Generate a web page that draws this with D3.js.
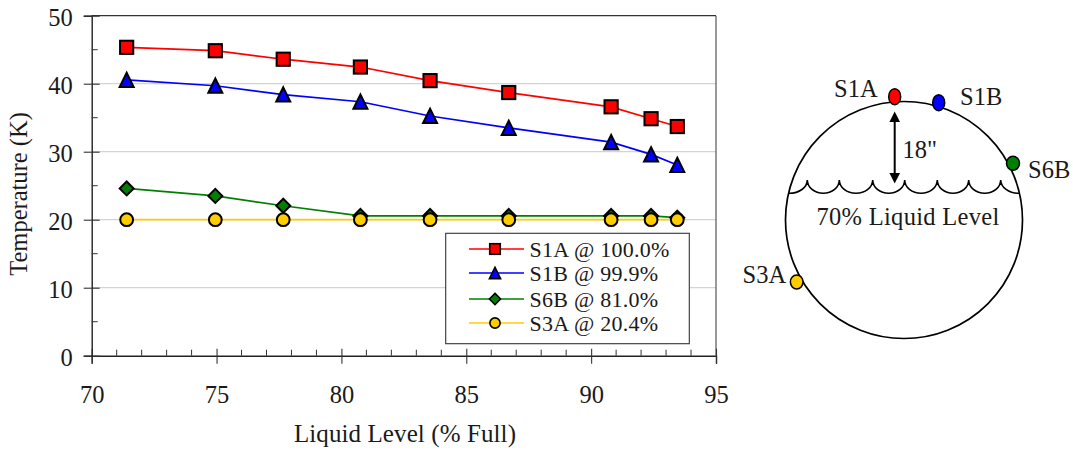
<!DOCTYPE html>
<html><head><meta charset="utf-8">
<script src="https://cdnjs.cloudflare.com/ajax/libs/d3/7.8.5/d3.min.js"></script>
<style>html,body{margin:0;padding:0;background:#fff}svg{display:block}text{font-family:"Liberation Serif",serif;fill:#1a1a1a}</style>
</head><body>
<script>
const liquidLevel=[71.4,74.95,77.67,80.76,83.55,86.7,90.8,92.4,93.45];
const s1a=[45.35,44.85,43.6,42.45,40.45,38.7,36.6,34.85,33.7];
const s1b=[40.55,39.7,38.4,37.35,35.25,33.5,31.4,29.6,28.05];
const s6b=[24.6,23.5,22.05,20.55,20.55,20.55,20.55,20.55,20.3];
const s3a=[20,20,20,20,20,20,20,20,20];
const seriesNames=["S1A @ 100.0%","S1B @ 99.9%","S6B @ 81.0%","S3A @ 20.4%"];
const seriesColors=["#ff0000","#0000ff","#008000","#ffcc00"];
const seriesShapes=["square","triangle","diamond","circle"];
const xTicks=[70,75,80,85,90,95];
const yTicks=[0,10,20,30,40,50];
const xMinorTicks=[71,72,73,74,76,77,78,79,81,82,83,84,86,87,88,89,91,92,93,94];
const yMinorTicks=[5,15,25,35,45];
const sensorNames=["S1A","S1B","S6B","S3A"];
const W=1073,H=451;
const svg=d3.select("body").append("svg").attr("width",W).attr("height",H);
const x=d3.scaleLinear().domain([70,95]).range([91.7,716]);
const y=d3.scaleLinear().domain([0,50]).range([355.7,15.7]);

svg.append("g").selectAll("line").data(yTicks.filter(d=>d>0&&d<50)).join("line")
 .attr("x1",x(70)).attr("x2",x(95)).attr("y1",y).attr("y2",y).attr("stroke","#d4d4d4").attr("stroke-width",1.2);
svg.append("line").attr("x1",x(95)).attr("x2",x(95)).attr("y1",y(50)).attr("y2",y(0)).attr("stroke","#555").attr("stroke-width",1.2);
svg.append("line").attr("x1",x(70)).attr("x2",x(95)).attr("y1",y(50)).attr("y2",y(50)).attr("stroke","#333").attr("stroke-width",1.2);

const axB=d3.axisBottom(x).tickValues(xTicks).tickSize(8).tickFormat(d3.format("d"));
const gx=svg.append("g").attr("transform",`translate(0,${y(0)})`).call(axB);
const axL=d3.axisLeft(y).tickValues(yTicks).tickSize(8).tickFormat(d3.format("d"));
const gy=svg.append("g").attr("transform",`translate(${x(70)},0)`).call(axL);
for(const g of [gx,gy]){g.select(".domain").attr("stroke","#222").attr("stroke-width",1.4);
 g.selectAll(".tick line").attr("stroke","#333").attr("stroke-width",1.1);
 g.selectAll("text").attr("font-family","Liberation Serif").attr("fill","#1a1a1a").style("font-size","24.5px");}
gx.selectAll(".tick line").attr("y1",-7).attr("y2",8);
gy.selectAll(".tick line").attr("x1",8).attr("x2",-8);
gx.selectAll("text").attr("y",47.3).attr("dy",0);
gy.selectAll("text").attr("x",-19).attr("y",1).attr("dy","0.34em");
svg.append("g").selectAll("line").data(xMinorTicks).join("line").attr("x1",x).attr("x2",x).attr("y1",y(0)).attr("y2",y(0)-6).attr("stroke","#333");
svg.append("g").selectAll("line").data(yMinorTicks).join("line").attr("x1",x(70)).attr("x2",x(70)+6).attr("y1",y).attr("y2",y).attr("stroke","#333");

svg.append("text").attr("x",405).attr("y",442).attr("text-anchor","middle").attr("font-size",25).style("letter-spacing","0.1px").text("Liquid Level (% Full)");
svg.append("text").attr("transform","translate(27,194) rotate(-90)").attr("text-anchor","middle").attr("font-size",24.5).text("Temperature (K)");

function marker(g,shape,color,cx,cy,s){
 const sw=s<1?1.6:2;
 let el;
 if(shape==="square")el=g.append("rect").attr("x",cx-6.6*s).attr("y",cy-6.6*s).attr("width",13.2*s).attr("height",13.2*s);
 else if(shape==="triangle")el=g.append("path").attr("d",`M${cx},${cy-7.2*s}L${cx+7*s},${cy+7*s}L${cx-7*s},${cy+7*s}Z`);
 else if(shape==="diamond")el=g.append("path").attr("d",`M${cx},${cy-7*s}L${cx+7*s},${cy}L${cx},${cy+7*s}L${cx-7*s},${cy}Z`);
 else el=g.append("circle").attr("cx",cx).attr("cy",cy).attr("r",6.4*s);
 el.attr("fill",color).attr("stroke","#000").attr("stroke-width",sw).attr("stroke-linejoin","miter");
}
const allSeries=[s1a,s1b,s6b,s3a];
const line=d3.line().x((d,i)=>x(liquidLevel[i])).y(d=>y(d));
[3,2,1,0].forEach(k=>{
 svg.append("path").attr("d",line(allSeries[k])).attr("fill","none").attr("stroke",seriesColors[k]).attr("stroke-width",1.7);
});
[2,3,1,0].forEach(k=>{
 const g=svg.append("g");
 allSeries[k].forEach((v,i)=>marker(g,seriesShapes[k],seriesColors[k],x(liquidLevel[i]),y(v),1));
});

// legend
const lg=svg.append("g");
lg.append("rect").attr("x",445.7).attr("y",233.3).attr("width",243.6).attr("height",110.4).attr("fill","#fff").attr("stroke","#333").attr("stroke-width",1.1);
const rowY=[249,273,299,323];
seriesNames.forEach((n,k)=>{
 lg.append("line").attr("x1",469).attr("x2",524).attr("y1",rowY[k]).attr("y2",rowY[k]).attr("stroke",seriesColors[k]).attr("stroke-width",1.5);
 marker(lg,seriesShapes[k],seriesColors[k],495,rowY[k],0.8);
 lg.append("text").attr("x",529.5).attr("y",rowY[k]+7.5).attr("font-size",22).attr("xml:space","preserve").style("letter-spacing","0.25px").text(n);
});

// tank schematic
const tank=svg.append("g");
tank.append("circle").attr("cx",904).attr("cy",220).attr("r",118.5).attr("fill","#fff").attr("stroke","#000").attr("stroke-width",1.7);
const crestX=[807.3,839.3,872.7,904.7,937.3,968.7,1000.7];
const crestTop=180,waveBottom=193.3;
const ry=waveBottom-crestTop;
let dd=`M789,${waveBottom}A18,${ry} 0 0 0 ${crestX[0]},${crestTop}`;
for(let i=1;i<crestX.length;i++){
  const a=crestX[i-1],b=crestX[i];
  dd+=`A${(b-a)/2},${ry} 0 0 0 ${b},${crestTop}`;
}
dd+=`A18.3,${ry} 0 0 0 1019,${waveBottom}`;
tank.append("path").attr("d",dd).attr("fill","none").attr("stroke","#000").attr("stroke-width",1.6);
tank.append("line").attr("x1",894.7).attr("x2",894.7).attr("y1",118).attr("y2",177).attr("stroke","#000").attr("stroke-width",2);
tank.append("path").attr("d","M894.7,111.5L900,122L889.4,122Z");
tank.append("path").attr("d","M894.7,183.5L900,173L889.4,173Z");
const sx=[894.7,938.7,1013,796.7],sy=[96.7,102.7,163.3,282],srx=[6,6,6.5,6.3],sry=[8,8,7,7];
sensorNames.forEach((n,k)=>{
 tank.append("ellipse").attr("cx",sx[k]).attr("cy",sy[k]).attr("rx",srx[k]).attr("ry",sry[k]).attr("fill",seriesColors[k]).attr("stroke","#000").attr("stroke-width",1.5);
});
const lx=[834,960,1028,742.5],ly=[97,105,178,283];
sensorNames.forEach((n,k)=>tank.append("text").attr("x",lx[k]).attr("y",ly[k]).attr("font-size",24.5).text(n));
tank.append("text").attr("x",902.5).attr("y",158).attr("font-size",24.5).text('18"');
tank.append("text").attr("x",816.5).attr("y",225).attr("font-size",24.5).style("letter-spacing","0.3px").text("70% Liquid Level");
</script>
</body></html>
